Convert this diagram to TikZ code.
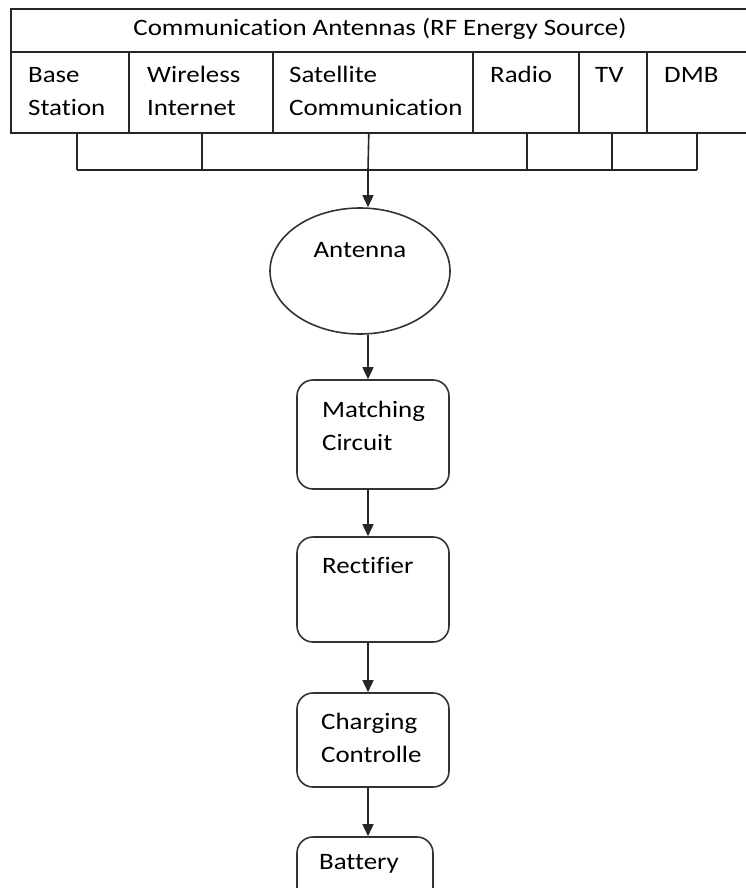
\documentclass[tikz,border=0pt]{standalone}
\usepackage{fontspec}
\setmainfont{Carlito}[FakeStretch=1.145, Ligatures=NoCommon]
\usetikzlibrary{arrows.meta,shapes.geometric}

\tikzset{
  cell/.style={draw=black!85, line width=1.6pt, minimum height=81pt, anchor=north west, inner sep=0pt},
  txt/.style={anchor=base west, inner sep=0pt, align=left, font=\fontsize{23.5}{33}\selectfont},
  block/.style={draw=black!80, line width=1.6pt, rounded corners=16pt, minimum width=152pt, inner sep=0pt},
  wire/.style={draw=black!85, line width=1.6pt},
  flow/.style={wire, -{Triangle[width=11pt,length=12pt]}},
}

\begin{document}
\begin{tikzpicture}[x=1pt, y=-1pt]
  \useasboundingbox (0,0) rectangle (745,888);
  % RF energy sources
  \node[cell, minimum width=742pt, minimum height=43pt] (source) at (10,8) {};
  \node[txt, anchor=base] (source-text) at (380,36) {Communication Antennas (RF Energy Source)};
  \foreach \name/\x/\w in {base/10/118, wireless/128/144, satellite/272/200, radio/472/106, tv/578/68, dmb/646/106}
    \node[cell, minimum width=\w pt] (\name) at (\x,51) {};
  % last line sets the base of a two-line text
  \node[txt] (base-text) at (28,116) {Base\\Station};
  \node[txt] (wireless-text) at (147,116) {Wireless\\Internet};
  \node[txt] (satellite-text) at (289,116) {Satellite\\Communication};
  \node[txt] (radio-text) at (490,82.7) {Radio};
  \node[txt] (tv-text) at (595,82.7) {TV};
  \node[txt] (dmb-text) at (664,82.7) {DMB};

  % harvesting chain
  \node[ellipse, draw=black!80, line width=1.6pt, minimum width=180pt, minimum height=126pt, inner sep=0pt] (antenna) at (360,271) {};
  \node[txt, anchor=base] (antenna-text) at (360,257) {Antenna};
  \node[block, minimum height=109pt] (match) at (373,434.5) {};
  \node[txt] (match-text) at (322,450) {Matching\\Circuit};
  \node[block, minimum height=105pt] (rect) at (373,589.5) {};
  \node[txt] (rect-text) at (322,573) {Rectifier};
  \node[block, minimum height=94pt] (charge) at (373,740) {};
  \node[txt] (charge-text) at (321,762) {Charging\\Controlle};
  \node[block, minimum width=136pt, minimum height=70pt] (battery) at (365,872) {};
  \node[txt] (battery-text) at (319,869) {Battery};

  % connectors
  \coordinate (bus) at (368,170);
  \foreach \name/\dx in {base/7, wireless/1, radio/1, tv/-1, dmb/-3}
    \draw[wire] ([xshift=\dx pt]\name.south) -- ([xshift=\dx pt]\name.south |- bus);
  \draw[wire] ([xshift=7pt]base.south |- bus) -- ([xshift=-3pt]dmb.south |- bus);
  \draw[wire] ([xshift=-4pt]satellite.south) -- (bus);
  \draw[flow] (bus) -- (bus |- antenna.north);
  \draw[flow] (antenna.south -| bus) -- (match.north -| bus);
  \draw[flow] (match.south -| bus) -- (rect.north -| bus);
  \draw[flow] (rect.south -| bus) -- (charge.north -| bus);
  \draw[flow] (charge.south -| bus) -- (battery.north -| bus);
\end{tikzpicture}
\end{document}
